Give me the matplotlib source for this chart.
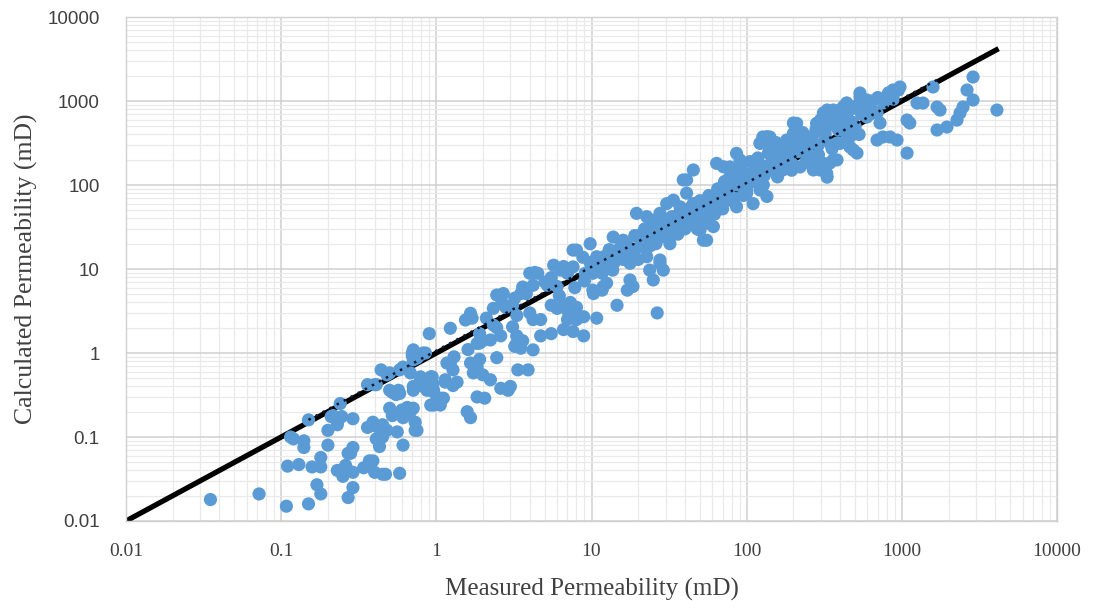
import numpy as np
import matplotlib
matplotlib.use("Agg")
import matplotlib.pyplot as plt
from matplotlib.ticker import LogLocator, FuncFormatter, NullFormatter

# measured vs calculated permeability (mD)
measured = [
    # low-left cloud
    0.035, 0.072, 0.108, 0.15, 0.15, 0.24, 0.12, 0.14, 0.14, 0.11, 0.13, 0.158, 0.18, 0.18,
    0.17, 0.18, 0.2, 0.2, 0.216, 0.246, 0.23, 0.29, 0.23, 0.26, 0.25, 0.27, 0.29, 0.27,
    0.29, 0.29, 0.27, 0.34, 0.37, 0.40, 0.45, 0.36, 0.41, 0.44, 0.41, 0.43, 0.115, 0.23,
    0.21, 0.47, 0.58, 0.39, 0.45, 0.48, 0.56, 0.61, 0.28,
    # 0.3 - 1.5
    0.9, 1.23, 0.70, 0.71, 0.79, 0.85, 0.82, 0.70, 0.75, 0.71, 0.44, 0.48, 0.58, 0.50,
    0.61, 0.36, 0.41, 0.40, 0.52, 0.58, 0.50, 0.57, 0.55, 0.50, 0.52, 0.61, 0.65, 0.71,
    0.60, 0.63, 0.68, 0.73, 0.73, 0.75, 0.39, 0.44, 0.45, 0.68, 0.79, 0.92, 0.71, 0.82,
    0.95, 0.87, 0.71, 0.95, 1.06, 0.92, 1.06, 0.79, 0.87, 0.94, 0.96, 1.01, 0.96, 1.11,
    1.14, 1.28, 1.23, 1.28, 1.36, 1.17, 1.14,
    # 1.5 - 5
    1.54, 1.66, 1.70, 1.58, 1.66, 1.66, 1.83, 1.73, 1.90, 1.99, 2.23, 1.83, 2.05, 1.90,
    2.23, 2.45, 1.90, 1.99, 1.83, 2.33, 2.45, 2.7, 2.65, 2.33, 2.45, 2.6, 2.6, 3.0,
    2.9, 3.1, 3.3, 3.1, 3.3, 3.5, 3.2, 3.3, 3.6, 3.5, 4.2, 3.35, 3.9, 3.6, 3.5, 3.8,
    4.0, 4.3, 4.5, 4.2, 5.2, 5.5, 5.7, 6.3, 6.0, 4.2, 4.7, 4.7,
    # 5 - 30
    5.5, 6.0, 6.6, 7.3, 7.0, 8.0, 7.5, 7.0, 8.0, 5.5, 6.6, 7.6, 8.9, 8.9, 10.8, 7.0,
    7.6, 8.0, 8.8, 9.1, 9.8, 10.8, 10.2, 11.7, 12.5, 10.2, 11.7, 13.7, 14.6, 15.3, 14.6,
    6.6, 7.6, 9.8, 10.8, 12.5, 13.8, 16, 15.3, 17.7, 20.5, 22.7, 10.3, 11.9, 17.7, 18.2,
    25, 27.6, 29, 26.5, 27.6, 23.7, 18.5, 17,
    # 20 - 130
    19.5, 22.7, 25, 27.6, 30.5, 33.7, 37.2, 41, 45.3, 41, 45.3, 52.6, 50, 55.2, 61, 64,
    70.8, 78, 86, 90.6, 100, 78, 86, 100, 110, 122, 135, 25, 52.6, 55, 39,
    # 100 - 4000
    122, 135, 149, 164, 181, 200, 210, 221, 244, 269, 312, 328, 361, 282, 328, 361, 420,
    441, 487, 399, 463, 420, 127, 135, 200, 164, 210, 312, 361, 441, 537, 596, 596, 692,
    723, 802, 877, 973, 755, 839, 931, 1080, 1080, 1125, 1253, 1368, 1588, 1686, 1762,
    1686, 1953, 2266, 2371, 2479, 2630, 2876, 2876, 4100,
    141, 122, 141, 157, 182, 171, 90.6, 78, 110, 105, 127, 221, 267, 297, 344, 330, 382,
    297, 344, 330, 399, 537, 596, 623, 484, 441, 463, 514, 382, 692,
    # dense band fill
    11, 12, 13, 14, 16, 17, 18, 19, 20, 21, 22, 23, 24, 26, 27, 28, 30, 31, 32, 33, 35,
    36, 38, 40, 42, 44, 46, 48, 50, 52, 54, 57, 60, 62, 65, 67, 70, 72, 75, 78, 80, 83,
    85, 88, 92, 95, 98, 105, 108, 112, 118, 125, 130, 138, 145, 150, 155, 160, 170, 175,
    185, 190, 195, 205, 215, 230, 240, 255, 265, 280, 290, 300, 320, 340, 350, 370, 390,
    420, 450, 470, 500, 520, 550, 580, 640, 660, 700, 760, 820, 880, 950,
    12, 15, 18, 21, 24, 28, 32, 36, 40, 44, 48, 53, 58, 63, 68, 74, 82, 90, 100, 115,
    128, 142, 158, 175, 195, 215, 240, 265, 290, 320, 355, 390, 430, 480, 530, 600,
    3.2, 4.0, 5.0, 6.2, 7.8, 9.0, 2.1, 2.8, 1.3, 1.6,
]
calculated = [
    # low-left cloud
    0.018, 0.021, 0.015, 0.016, 0.16, 0.25, 0.095, 0.09, 0.075, 0.045, 0.047, 0.044, 0.057, 0.044,
    0.027, 0.021, 0.08, 0.12, 0.18, 0.175, 0.15, 0.165, 0.04, 0.046, 0.034, 0.04, 0.038, 0.064,
    0.075, 0.025, 0.019, 0.043, 0.052, 0.038, 0.036, 0.13, 0.134, 0.12, 0.095, 0.077, 0.10, 0.14,
    0.175, 0.036, 0.037, 0.052, 0.14, 0.12, 0.115, 0.08, 0.064,
    # 0.3 - 1.5
    1.7, 1.97, 1.0, 0.83, 0.95, 1.0, 1.0, 0.93, 0.87, 1.09, 0.63, 0.55, 0.63, 0.58,
    0.68, 0.42, 0.42, 0.42, 0.34, 0.33, 0.36, 0.36, 0.32, 0.22, 0.18, 0.17, 0.225, 0.22,
    0.21, 0.18, 0.20, 0.15, 0.12, 0.12, 0.15, 0.12, 0.10, 0.58, 0.52, 0.52, 0.40, 0.40,
    0.43, 0.36, 0.36, 0.35, 0.29, 0.24, 0.24, 0.48, 0.40, 0.52, 0.36, 0.29, 0.24, 0.29,
    0.45, 0.41, 0.76, 0.63, 0.45, 0.76, 0.48,
    # 1.5 - 5
    2.47, 2.97, 2.6, 0.2, 0.17, 0.76, 0.68, 0.58, 0.84, 0.55, 0.48, 0.30, 0.29, 1.31,
    1.43, 0.88, 1.7, 1.4, 1.3, 3.4, 4.9, 5.1, 4.0, 2.15, 2.0, 1.6, 0.38, 0.40,
    0.36, 3.7, 2.8, 2.05, 1.6, 1.4, 1.2, 1.3, 1.4, 1.14, 1.09, 0.63, 0.63, 6.1, 5.1, 5.1,
    8.9, 9.1, 8.9, 6.4, 6.4, 7.9, 11.1, 9.7, 6.2, 2.5, 2.5, 1.6,
    # 5 - 30
    3.7, 3.4, 3.7, 4.0, 3.2, 3.5, 2.8, 2.5, 2.5, 1.7, 1.9, 1.8, 1.6, 2.7, 2.6, 8.9,
    10.6, 16.8, 13.8, 8.9, 11.9, 12.7, 8.9, 8.9, 6.8, 5.6, 5.6, 9.7, 15.5, 18, 3.7,
    10.7, 16.8, 20, 14, 11.7, 24, 22, 15.4, 11.7, 18.5, 14, 5.1, 6.2, 7.4, 6.2,
    7.4, 11.7, 9.7, 3.0, 12.8, 9.7, 6.2, 5.6,
    # 20 - 130
    46, 42, 32, 46, 60, 66, 55, 115, 151, 80, 60, 42, 29, 22, 32, 181,
    165, 126, 238, 165, 105, 66, 55, 80, 60, 87, 73, 38, 22, 35, 115,
    # 100 - 4000
    313, 376, 286, 238, 343, 412, 542, 286, 199, 151, 181, 138, 199, 542, 713, 594, 857,
    938, 261, 313, 376, 542, 373, 316, 547, 261, 373, 720, 781, 947, 1245, 1028, 645, 720,
    547, 1117, 1352, 1468, 373, 373, 343, 240, 594, 547, 947, 947, 1468, 848, 781,
    452, 490, 594, 720, 848, 1352, 1028, 1931, 781,
    373, 316, 283, 261, 215, 151, 199, 164, 183, 124, 139, 164, 183, 151, 183, 124, 199,
    490, 645, 781, 781, 1117, 947, 720, 547, 416, 283, 240, 316, 343,
    # dense band fill
    10, 14, 17, 12, 13, 19, 16, 25, 13, 22, 30, 18, 25, 20, 30, 24, 36, 28, 20, 42, 35,
    26, 40, 48, 34, 55, 42, 30, 65, 50, 40, 75, 58, 45, 90, 70, 52, 110, 85, 95, 140, 70,
    120, 100, 150, 75, 130, 190, 140, 110, 210, 170, 130, 240, 190, 150, 320, 210, 270, 170,
    290, 230, 180, 340, 250, 420, 320, 230, 380, 460, 300, 600, 420, 520, 300, 650, 450,
    700, 600, 800, 500, 900, 700, 850, 1000, 750, 1100, 950, 1250, 1050, 1350,
    11, 17, 14, 26, 19, 33, 24, 44, 30, 52, 38, 64, 45, 75, 55, 92, 65, 110, 90, 135,
    100, 175, 125, 215, 150, 260, 185, 320, 230, 390, 270, 470, 330, 560, 400, 680,
    4.5, 3.0, 7.0, 4.8, 6.0, 7.2, 2.6, 3.5, 0.9, 1.1,
]

# 1:1 line and dotted trend line
line_x = [0.01, 4200]
line_y = [0.01, 4200]
trend_x = [0.15, 1700]
trend_y = [0.16, 1800]

tick_vals = [0.01, 0.1, 1, 10, 100, 1000, 10000]

fig = plt.figure(figsize=(10.94, 6.08), dpi=100)
ax = fig.add_axes([0.1152, 0.1431, 0.8510, 0.8289])

ax.plot(line_x, line_y, color='black', lw=3.8, solid_capstyle='butt', zorder=2)
ax.scatter(measured, calculated, s=90, color='#5B9BD5', edgecolors='none', zorder=3)
ax.plot(trend_x, trend_y, color='#0b1a33', lw=1.8, ls=(0, (1, 2.2)), zorder=4)

ax.set_xscale('log')
ax.set_yscale('log')
ax.set_xlim(0.01, 10000)
ax.set_ylim(0.01, 10000)

ax.set_xticks(tick_vals)
ax.set_yticks(tick_vals)
ax.xaxis.set_minor_locator(LogLocator(base=10, subs=np.arange(2, 10), numticks=20))
ax.yaxis.set_minor_locator(LogLocator(base=10, subs=np.arange(2, 10), numticks=20))
fmt = FuncFormatter(lambda v, p: '%g' % v)
ax.xaxis.set_major_formatter(fmt)
ax.yaxis.set_major_formatter(fmt)
ax.xaxis.set_minor_formatter(NullFormatter())
ax.yaxis.set_minor_formatter(NullFormatter())
ax.set_xlim(0.01, 10000)
ax.set_ylim(0.01, 10000)

ax.grid(True, which='major', color='#cfcfcf', lw=1.1, zorder=0)
ax.grid(True, which='minor', color='#e9e9e9', lw=0.9, zorder=0)
ax.set_axisbelow(True)
for s in ax.spines.values():
    s.set_color('#d0d0d0')
    s.set_linewidth(1.0)

ax.tick_params(which='both', length=0)
ax.tick_params(which='minor', labelbottom=False, labelleft=False)
ax.tick_params(axis='x', pad=16, labelsize=14, labelcolor='#404040')
ax.tick_params(axis='y', pad=19, labelsize=13.5, labelcolor='#404040')
for lab in ax.get_xticklabels():
    lab.set_family('Liberation Serif')
for lab in ax.get_yticklabels():
    lab.set_family('Liberation Sans')

ax.set_xlabel('Measured Permeability (mD)', family='Liberation Serif', fontsize=18,
              color='#404040', labelpad=13)
ax.set_ylabel('Calculated Permeability (mD)', family='Liberation Serif', fontsize=18.5,
              color='#404040', labelpad=7)

fig.savefig('out.png', dpi=100)
